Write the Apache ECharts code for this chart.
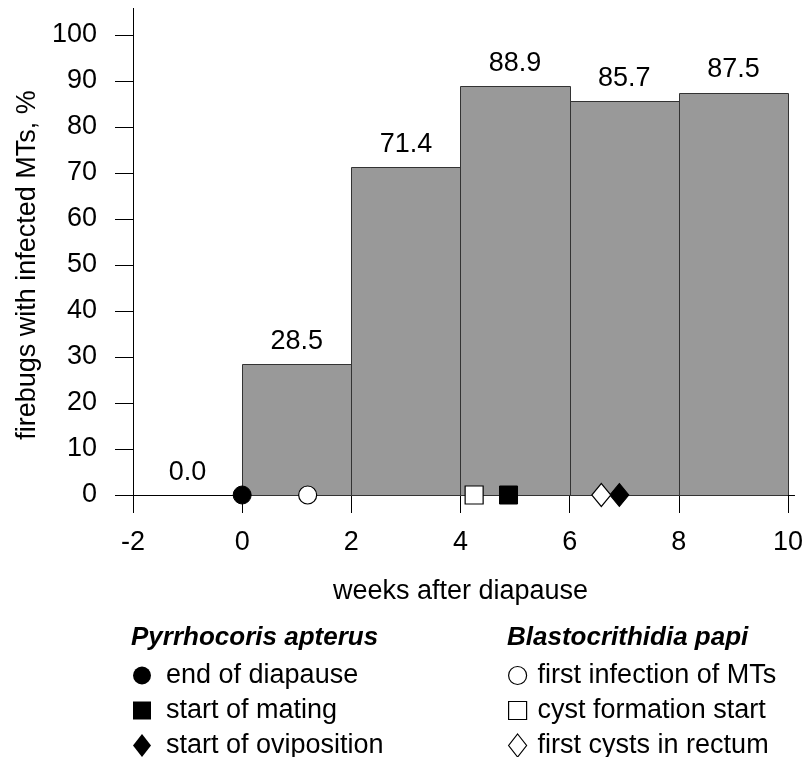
<!DOCTYPE html>
<html><head><meta charset="utf-8">
<script src="https://cdn.jsdelivr.net/npm/echarts@6/dist/echarts.min.js"></script>
<style>html,body{margin:0;padding:0;background:#fff}#c{width:806px;height:757px}</style>
</head><body><div id="c"></div>
<script>
// ---- data ----
const binStarts = [-2, 0, 2, 4, 6, 8];
const binEnds = [0, 2, 4, 6, 8, 10];
const infectedPct = [0.0, 28.5, 71.4, 88.9, 85.7, 87.5];

const hostTitle = 'Pyrrhocoris apterus';
const hostEventNames = ['end of diapause', 'start of mating', 'start of oviposition'];
const hostEventWeeks = [0, 4.88, 6.91];

const parasiteTitle = 'Blastocrithidia papi';
const parasiteEventNames = ['first infection of MTs', 'cyst formation start', 'first cysts in rectum'];
const parasiteEventWeeks = [1.2, 4.25, 6.58];

const xMin = -2, xMax = 10, xStep = 2;
const yMin = 0, yMax = 100, yStep = 10;
const xTitle = 'weeks after diapause';
const yTitle = 'firebugs with infected MTs, %';

// ---- styles ----
const FONT = '"Liberation Sans", Arial, Helvetica, sans-serif';
const FS = 27;
const symbolShapes = ['circle', 'rect', 'diamond'];
const symbolSizes = [18, 18, [19, 23]];
const legendIcons = ['circle', 'path://M0,0L17,0L17,17L0,17Z', 'path://M9,0L18,11.5L9,23L0,11.5Z'];

const chart = echarts.init(document.getElementById('c'), null, {renderer: 'canvas'});

const barData = binStarts.map((s, i) => [s, binEnds[i], infectedPct[i]]);

function eventSeries(names, weeks, filled) {
  return names.map((n, i) => ({
    type: 'scatter',
    name: n,
    data: [[weeks[i], 0]],
    symbol: symbolShapes[i],
    symbolSize: symbolSizes[i],
    z: 10,
    clip: false,
    itemStyle: filled ? {color: '#000', borderColor: '#000', borderWidth: 1, opacity: 1}
                      : {color: '#fff', borderColor: '#000', borderWidth: 1.2, opacity: 1}
  }));
}

function legendData(names, filled) {
  return names.map((n, i) => ({
    name: n,
    icon: legendIcons[i],
    itemStyle: filled ? {color: '#000', borderColor: '#000', borderWidth: 0, opacity: 1}
                      : {color: '#fff', borderColor: '#000', borderWidth: 1.2, opacity: 1}
  }));
}

const legendCommon = {
  orient: 'vertical', top: 662, padding: 0, itemWidth: 18, itemHeight: 23, itemGap: 8,
  height: 120, selectedMode: false
};

const option = {
  animation: false,
  backgroundColor: '#fff',
  textStyle: {fontFamily: FONT},
  grid: {left: 133, right: 16, top: 35, bottom: 262, containLabel: false},
  xAxis: {
    type: 'value', min: xMin, max: xMax, interval: xStep,
    name: xTitle, nameLocation: 'middle', nameGap: 83,
    nameTextStyle: {fontSize: FS, color: '#000', fontFamily: FONT},
    axisLine: {show: true, onZero: false, lineStyle: {color: '#000', width: 1}},
    axisTick: {show: true, inside: false, length: 18, lineStyle: {color: '#000', width: 1}},
    axisLabel: {fontSize: FS, color: '#000', margin: 34, fontFamily: FONT},
    splitLine: {show: false}
  },
  yAxis: {
    type: 'value', min: yMin, max: yMax, interval: yStep,
    name: yTitle, nameLocation: 'middle', nameGap: 91,
    nameTextStyle: {fontSize: FS, color: '#000', fontFamily: FONT},
    axisLine: {show: true, onZero: false, lineStyle: {color: '#000', width: 1}},
    axisTick: {show: true, inside: false, length: 18, lineStyle: {color: '#000', width: 1}},
    axisLabel: {fontSize: FS, color: '#000', margin: 36, fontFamily: FONT},
    splitLine: {show: false}
  },
  title: [
    {text: hostTitle, left: 131, top: 625, padding: 0,
     textStyle: {fontSize: 26, fontWeight: 'bold', fontStyle: 'italic', color: '#000', fontFamily: FONT}},
    {text: parasiteTitle, left: 507, top: 625, padding: 0,
     textStyle: {fontSize: 26, fontWeight: 'bold', fontStyle: 'italic', color: '#000', fontFamily: FONT}}
  ],
  legend: [
    Object.assign({left: 133,
     textStyle: {fontSize: FS, lineHeight: 26, color: '#000', fontFamily: FONT, padding: [0, 0, 0, 10]},
     data: legendData(hostEventNames, true)}, legendCommon),
    Object.assign({left: 508,
     textStyle: {fontSize: FS, lineHeight: 26, color: '#000', fontFamily: FONT, padding: [0, 0, 0, 6]},
     data: legendData(parasiteEventNames, false)}, legendCommon)
  ],
  series: [
    {
      type: 'custom',
      name: 'bars',
      data: barData,
      encode: {x: [0, 1], y: 2},
      z: 2,
      renderItem: function (params, api) {
        const s = api.value(0), e = api.value(1), v = api.value(2);
        const p0 = api.coord([s, v]);
        const p1 = api.coord([e, 0]);
        const children = [];
        if (v > 0) {
          children.push({type: 'rect',
            shape: {x: Math.round(p0[0]) + 0.5, y: Math.round(p0[1]) + 0.5,
                    width: Math.round(p1[0]) - Math.round(p0[0]), height: Math.round(p1[1]) - Math.round(p0[1])},
            style: {fill: '#999999', stroke: '#333333', lineWidth: 1}});
        }
        children.push({type: 'text', x: (p0[0] + p1[0]) / 2, y: p0[1] - 9,
          style: {text: v.toFixed(1), fill: '#000', font: FS + 'px ' + FONT, align: 'center', verticalAlign: 'bottom'}});
        return {type: 'group', children: children};
      }
    }
  ].concat(eventSeries(hostEventNames, hostEventWeeks, true))
   .concat(eventSeries(parasiteEventNames, parasiteEventWeeks, false))
};

chart.setOption(option);

// axis line overhangs (decoration): y axis continues above 100, x axis slightly past 10
const pTop = chart.convertToPixel({gridIndex: 0}, [xMin, yMax]);
const pRight = chart.convertToPixel({gridIndex: 0}, [xMax, yMin]);
chart.setOption({
  graphic: [
    {type: 'line', z: 5, shape: {x1: Math.round(pTop[0]) + 0.5, y1: pTop[1] - 27, x2: Math.round(pTop[0]) + 0.5, y2: pTop[1]},
     style: {stroke: '#000', lineWidth: 1}},
    {type: 'line', z: 5, shape: {x1: pRight[0], y1: Math.round(pRight[1]) + 0.5, x2: pRight[0] + 7, y2: Math.round(pRight[1]) + 0.5},
     style: {stroke: '#000', lineWidth: 1}}
  ]
});
</script>
</body></html>
